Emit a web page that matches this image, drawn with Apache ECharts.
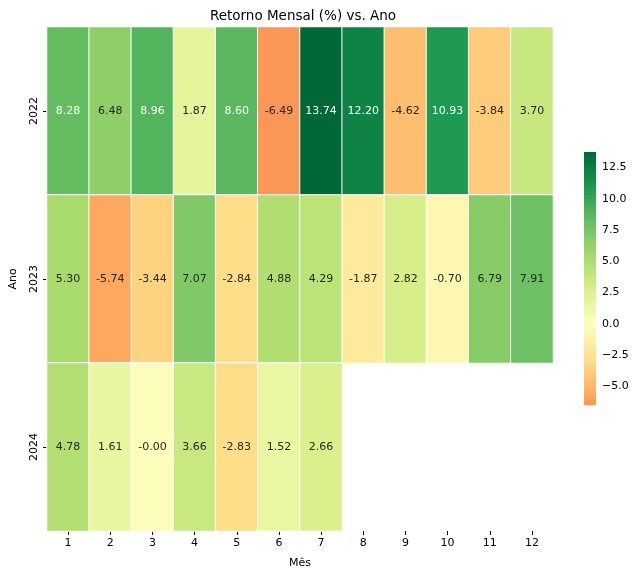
<!DOCTYPE html>
<html>
<head>
<meta charset="utf-8">
<script src="https://cdn.jsdelivr.net/npm/echarts@6/dist/echarts.min.js"></script>
<style>html,body{margin:0;padding:0;background:#fff}#c{width:640px;height:575px}</style>
</head>
<body>
<div id="c"></div>
<script>
const months = ['1','2','3','4','5','6','7','8','9','10','11','12'];
const years = ['2022','2023','2024'];
const ret2022 = [8.28, 6.48, 8.96, 1.87, 8.60, -6.49, 13.74, 12.20, -4.62, 10.93, -3.84, 3.70];
const ret2023 = [5.30, -5.74, -3.44, 7.07, -2.84, 4.88, 4.29, -1.87, 2.82, -0.70, 6.79, 7.91];
const ret2024 = [4.78, 1.61, -0.004, 3.66, -2.83, 1.52, 2.66];
const cbTicks = [-5, -2.5, 0, 2.5, 5, 7.5, 10, 12.5];

const rows = [ret2022, ret2023, ret2024];
const data = [];
rows.forEach((r, yi) => r.forEach((v, xi) => data.push([xi, yi, v])));
const allVals = rows.flat();
const vmin = Math.min(...allVals), vmax = Math.max(...allVals);
const span = Math.max(Math.abs(vmin), Math.abs(vmax));

// RdYlGn colormap
const cmap = ['#a50026','#d73027','#f46d43','#fdae61','#fee08b','#ffffbf','#d9ef8b','#a6d96a','#66bd63','#1a9850','#006837'];
function hex2rgb(h){return [parseInt(h.slice(1,3),16),parseInt(h.slice(3,5),16),parseInt(h.slice(5,7),16)];}
function cmapAt(t){
  t = Math.max(0, Math.min(1, t));
  const p = t * 10, i = Math.min(9, Math.floor(p)), f = p - i;
  const a = hex2rgb(cmap[i]), b = hex2rgb(cmap[i+1]);
  return a.map((c, k) => Math.round(c + (b[k] - c) * f));
}
function colorOf(v){ return cmapAt((v + span) / (2 * span)); }
function lum(rgb){
  const c = rgb.map(x => { x /= 255; return x <= 0.03928 ? x / 12.92 : Math.pow((x + 0.055) / 1.055, 2.4); });
  return 0.2126 * c[0] + 0.7152 * c[1] + 0.0722 * c[2];
}
const stops = [];
const N = 60;
for (let i = 0; i <= N; i++) {
  const v = vmin + (vmax - vmin) * i / N;
  const c = colorOf(v);
  stops.push('rgb(' + c.join(',') + ')');
}

const chart = echarts.init(document.getElementById('c'));
const font = 'DejaVu Sans';
chart.setOption({
  animation: false,
  backgroundColor: '#fff',
  textStyle: { fontFamily: font },
  title: {
    text: 'Retorno Mensal (%) vs. Ano',
    left: 298, top: 4, textAlign: 'center',
    textStyle: { fontFamily: font, fontSize: 13.5, fontWeight: 'normal', color: '#000' }
  },
  grid: [
    { left: 44, top: 27, width: 509, height: 504 },
    { left: 584, top: 152, width: 12, height: 253 }
  ],
  xAxis: [
    {
      type: 'category', data: months, gridIndex: 0,
      name: 'Mês', nameLocation: 'middle', nameGap: 27,
      nameTextStyle: { fontFamily: font, fontSize: 11, color: '#000' },
      axisLine: { show: false },
      axisTick: { show: true, alignWithLabel: true, length: 4, lineStyle: { color: '#000' } },
      axisLabel: { fontFamily: font, fontSize: 11, color: '#000', margin: 7 },
      splitLine: { show: false }
    },
    { type: 'value', gridIndex: 1, show: false, min: 0, max: 1 }
  ],
  yAxis: [
    {
      type: 'category', data: years, gridIndex: 0, inverse: true,
      name: 'Ano', nameLocation: 'middle', nameGap: 28, nameRotate: 90,
      nameTextStyle: { fontFamily: font, fontSize: 11, color: '#000' },
      axisLine: { show: false },
      axisTick: { show: true, alignWithLabel: true, length: 4, lineStyle: { color: '#000' } },
      axisLabel: { fontFamily: font, fontSize: 11, color: '#000', rotate: 90, margin: 7 },
      splitLine: { show: false }
    },
    {
      type: 'value', gridIndex: 1, position: 'right', min: vmin, max: vmax,
      axisLine: { show: false },
      splitLine: { show: false },
      axisTick: { show: true, length: 4, lineStyle: { color: '#000' }, customValues: cbTicks },
      axisLabel: {
        fontFamily: font, fontSize: 11, color: '#000', margin: 6, customValues: cbTicks,
        formatter: v => (v < 0 ? '\u2212' : '') + Math.abs(v).toFixed(1)
      }
    }
  ],
  visualMap: {
    type: 'continuous', show: false, min: vmin, max: vmax, seriesIndex: 0, dimension: 2,
    inRange: { color: stops }
  },
  series: [{
    type: 'heatmap', xAxisIndex: 0, yAxisIndex: 0, data: data,
    itemStyle: { borderColor: '#fff', borderWidth: 1 },
    label: {
      show: true, fontFamily: font, fontSize: 11,
      formatter: p => {
        const v = p.value[2];
        const k = lum(colorOf(v)) < 0.408 ? 'w' : 'd';
        return '{' + k + '|' + v.toFixed(2) + '}';
      },
      rich: {
        w: { color: '#ffffff', fontFamily: font, fontSize: 11 },
        d: { color: '#262626', fontFamily: font, fontSize: 11 }
      }
    },
    emphasis: { disabled: true }
  }, {
    type: 'custom', xAxisIndex: 1, yAxisIndex: 1, silent: true,
    data: [[0, vmin, 1, vmax]],
    renderItem: (params, api) => {
      const p0 = api.coord([api.value(0), api.value(1)]);
      const p1 = api.coord([api.value(2), api.value(3)]);
      const colorStops = stops.map((c, i) => ({ offset: 1 - i / (stops.length - 1), color: c }));
      colorStops.reverse();
      return {
        type: 'rect',
        shape: { x: p0[0], y: p1[1], width: p1[0] - p0[0], height: p0[1] - p1[1] },
        style: { fill: new echarts.graphic.LinearGradient(0, 0, 0, 1, colorStops) }
      };
    }
  }]
});
</script>
</body>
</html>
